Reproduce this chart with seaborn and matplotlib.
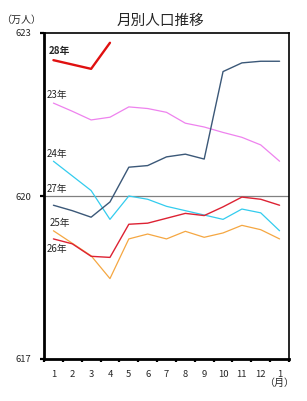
import matplotlib
matplotlib.use("Agg")
import matplotlib.pyplot as plt
import seaborn as sns
import pandas as pd
import numpy as np

month_labels = ["1", "2", "3", "4", "5", "6", "7", "8", "9", "10", "11", "12", "1"]

h23 = [621.71, 621.56, 621.40, 621.45, 621.64, 621.61, 621.54, 621.34, 621.27, 621.17, 621.08, 620.94, 620.64]
h24 = [620.64, 620.37, 620.10, 619.57, 620.00, 619.94, 619.81, 619.73, 619.65, 619.57, 619.76, 619.69, 619.36]
h25 = [619.36, 619.13, 618.90, 618.48, 619.21, 619.30, 619.21, 619.35, 619.24, 619.32, 619.46, 619.38, 619.21]
h26 = [619.21, 619.12, 618.89, 618.87, 619.48, 619.50, 619.59, 619.68, 619.64, 619.80, 619.98, 619.94, 619.83]
h27 = [619.83, 619.73, 619.61, 619.89, 620.53, 620.56, 620.72, 620.77, 620.68, 622.29, 622.45, 622.48, 622.48]
h28 = [622.50, 622.42, 622.34, 622.82]

series_names = ["23年", "24年", "25年", "26年", "27年", "28年"]
series_vals = [h23, h24, h25, h26, h27, h28]
colors = ["#ee82ee", "#33ccee", "#f5a742", "#dd2233", "#3b5878", "#e01010"]
widths = [0.9, 0.9, 0.9, 1.0, 1.0, 1.7]

sns.set_theme(style="white")
plt.rcParams['font.family'] = ['Noto Sans CJK JP', 'DejaVu Sans']

fig = plt.figure(figsize=(3.07, 4.01), dpi=100)
ax = fig.add_axes([44/307, 42/401, 245/307, 326/401])

rows = []
for name, vals in zip(series_names, series_vals):
    for i, v in enumerate(vals):
        rows.append({"series": name, "x": i, "value": v})
df = pd.DataFrame(rows)

ax.axhline(620, color="#808080", lw=0.9, zorder=1)
for name, c, w in zip(series_names, colors, widths):
    sns.lineplot(data=df[df.series == name], x="x", y="value", ax=ax,
                 color=c, linewidth=w, legend=False, zorder=3)

ax.set_xlim(-0.5, 12.5)
ax.set_ylim(617, 623)
ax.set_xlabel("")
ax.set_ylabel("")

ax.set_xticks(range(13))
ax.set_xticklabels(month_labels, fontsize=6.8)
ax.set_xticks(np.arange(-0.5, 13, 1), minor=True)
ax.tick_params(axis="x", which="major", length=0, pad=8)
ax.tick_params(axis="x", which="minor", length=2.5, width=1.6, direction="out", color="black", bottom=True)
ax.set_yticks([617, 620, 623])
ax.set_yticklabels(["617", "620", "623"], fontsize=6.8)
ax.tick_params(axis="y", which="major", length=3, width=1.6, direction="out", color="black", pad=6, left=True)

for side in ["top", "right"]:
    ax.spines[side].set_linewidth(1.2)
    ax.spines[side].set_color("black")
for side in ["left", "bottom"]:
    ax.spines[side].set_linewidth(2.0)
    ax.spines[side].set_color("black")

lab_kw = dict(fontsize=7, ha="left", va="center")
ax.text(-0.25, 622.67, "28年", fontweight="bold", **lab_kw)
ax.text(-0.35, 621.85, "23年", **lab_kw)
ax.text(-0.35, 620.78, "24年", **lab_kw)
ax.text(-0.35, 620.12, "27年", **lab_kw)
ax.text(-0.2, 619.51, "25年", **lab_kw)
ax.text(-0.35, 619.02, "26年", **lab_kw)

fig.text(160/307, 1 - 21/401, "月別人口推移", fontsize=10.5, ha="center", va="center")
fig.text(21/307, 1 - 19.5/401, "（万人）", fontsize=7.2, ha="center", va="center")
fig.text(279/307, 1 - 383/401, "（月）", fontsize=7.2, ha="center", va="center")

fig.savefig("out.png", dpi=100, facecolor="white")
